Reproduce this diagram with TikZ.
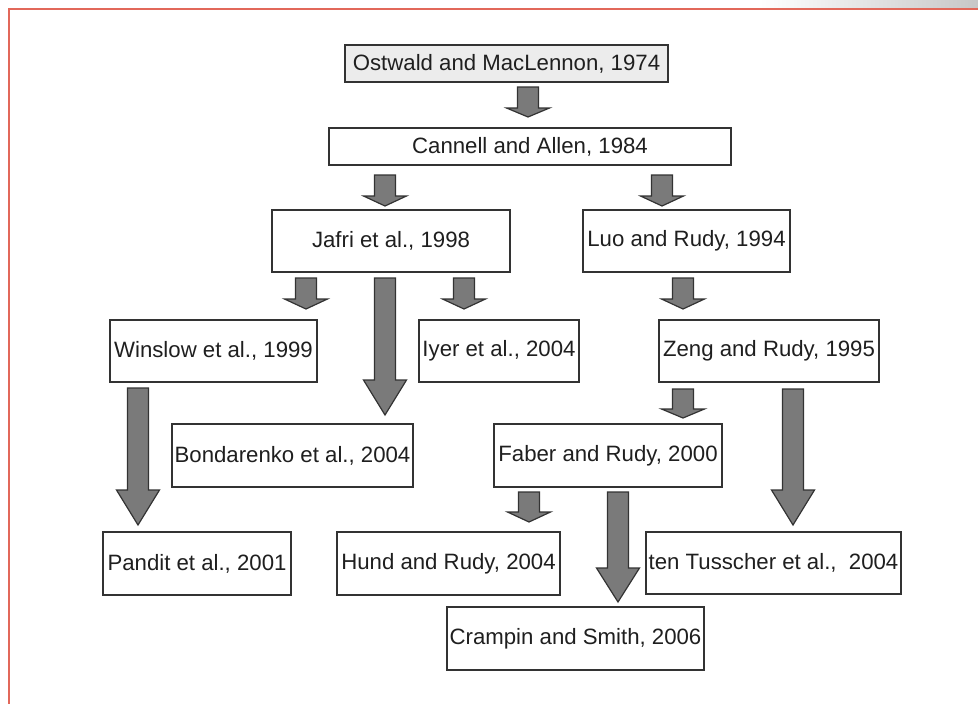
\documentclass[tikz,border=0pt]{standalone}
\usepackage{fontspec}
\setmainfont{Liberation Sans}
\definecolor{frame}{HTML}{E2685A}
\definecolor{boxline}{HTML}{333333}
\definecolor{arrfill}{HTML}{7A7A7A}
\definecolor{ostfill}{HTML}{ECECEC}
\tikzset{
  refbox/.style={draw=boxline, line width=1.3pt, fill=white, inner sep=0pt,
    font=\fontsize{22.2}{25}\selectfont, text=black!88},
  blockarr/.style={draw=boxline, line width=1.2pt, fill=arrfill, line join=miter},
}
% #1 = x centre, #2 = top of shaft, #3 = base of head, #4 = tip
\newcommand\blockarrow[4]{%
  \draw[blockarr] ({#1-10.5},#2) -- ({#1+10.5},#2) -- ({#1+10.5},#3) -- ({#1+21.5},#3)
    -- (#1,#4) -- ({#1-21.5},#3) -- ({#1-10.5},#3) -- cycle;}
\begin{document}
\begin{tikzpicture}[x=1pt,y=-1pt]
\useasboundingbox (0,0) rectangle (978,704);
\fill[white] (0,0) rectangle (978,704);
\shade[left color=white, right color=black!22] (760,0) rectangle (978,8);
\draw[frame, line width=2pt] (9,704) -- (9,9) -- (978,9);

\node[refbox, fill=ostfill, minimum width=323pt, minimum height=37pt] (ost) at (506.5,63.5) {Ostwald and MacLennon, 1974};
\node[refbox, minimum width=402pt, minimum height=37pt] (can) at (530,146.5) {Cannell and Allen, 1984};
\node[refbox, minimum width=238pt, minimum height=62pt] (jaf) at (391,241) {Jafri et al., 1998};
\node[refbox, minimum width=207pt, minimum height=62pt] (luo) at (686.5,241) {Luo and Rudy, 1994};
\node[refbox, minimum width=207pt, minimum height=62pt] (win) at (213.5,351) {Winslow et al., 1999};
\node[refbox, minimum width=160pt, minimum height=62pt] (iyer) at (499,351) {Iyer et al., 2004};
\node[refbox, minimum width=220pt, minimum height=62pt] (zeng) at (769,351) {Zeng and Rudy, 1995};
\node[refbox, minimum width=241pt, minimum height=63pt] (bond) at (292.5,455.5) {Bondarenko et al., 2004};
\node[refbox, minimum width=228pt, minimum height=63pt] (fab) at (608,455.5) {Faber and Rudy, 2000};
\node[refbox, minimum width=188pt, minimum height=63pt] (pan) at (197,563.5) {Pandit et al., 2001};
\node[refbox, minimum width=223pt, minimum height=63pt] (hund) at (448.5,563.5) {Hund and Rudy, 2004};
\node[refbox, minimum width=255pt, minimum height=62pt] (ten) at (773.5,563) {ten Tusscher et al.,\ \ 2004};
\node[refbox, minimum width=257pt, minimum height=63pt] (cram) at (575.5,638.5) {Crampin and Smith, 2006};

% short arrows
\blockarrow{528}{87}{108}{117}
\blockarrow{385}{175}{196}{206}
\blockarrow{662}{175}{196}{206}
\blockarrow{306}{278}{299}{309}
\blockarrow{464}{278}{299}{309}
\blockarrow{683}{278}{299}{309}
\blockarrow{683}{389}{409}{418}
\blockarrow{529}{492}{512}{522}
% long arrows
\blockarrow{385}{278}{380}{415}
\blockarrow{138}{388}{490}{525}
\blockarrow{793}{389}{490}{525}
\blockarrow{618}{492}{568}{602}
\end{tikzpicture}
\end{document}
